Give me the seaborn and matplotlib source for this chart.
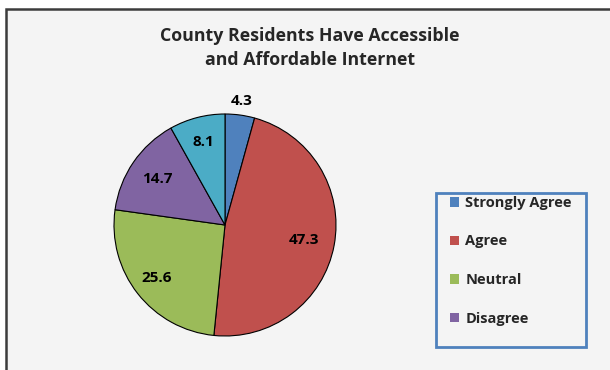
import numpy as np
import matplotlib
matplotlib.use("Agg")
import matplotlib.pyplot as plt
import seaborn as sns
from matplotlib.patches import Rectangle, Patch

sns.set_style("white")
plt.rcParams['font.family'] = ['Open Sans', 'DejaVu Sans']

categories = ["Strongly Agree", "Agree", "Neutral", "Disagree", "Strongly Disagree"]
values = [4.3, 47.3, 25.6, 14.7, 8.1]
value_labels = ["4.3", "47.3", "25.6", "14.7", "8.1"]
title = "County Residents Have Accessible\nand Affordable Internet"
legend_shown = 4

colors = sns.color_palette(["#4F81BD", "#C0504D", "#9BBB59", "#8064A2", "#4BACC6"])
label_dist = [1.13, 0.72, 0.78, 0.74, 0.77]

W, H = 610, 370
fig = plt.figure(figsize=(W / 100, H / 100), dpi=100, facecolor="white")

# chart area background with border
bg = Rectangle((5.5 / W, -0.1), 1.2, (H - 8.5) / H + 0.1, transform=fig.transFigure,
               facecolor="#f4f4f4", edgecolor="#3c3c3c", lw=1.8, zorder=-5)
fig.patches.append(bg)

# legend box
lb = Rectangle((436 / W, 1 - 347 / H), 150 / W, 154 / H, transform=fig.transFigure,
               facecolor="none", edgecolor="#4F81BD", lw=2, zorder=-4)
fig.patches.append(lb)

cx, cy, r = 225, 225, 111
ax = fig.add_axes([(cx - r) / W, (H - cy - r) / H, 2 * r / W, 2 * r / H], zorder=2)
wedges, _ = ax.pie(values, colors=colors, startangle=90, counterclock=False,
                   wedgeprops=dict(edgecolor="black", linewidth=0.8))
ax.set_xlim(-1, 1)
ax.set_ylim(-1, 1)
ax.set_aspect("equal")
ax.axis("off")

for w, lab, d in zip(wedges, value_labels, label_dist):
    ang = np.deg2rad((w.theta1 + w.theta2) / 2)
    ax.text(d * np.cos(ang), d * np.sin(ang), lab, ha="center", va="center",
            fontsize=11, fontweight="bold", color="black", clip_on=False)

fig.text(310 / W, 1 - 48 / H, title, ha="center", va="center", fontsize=12.8,
         fontweight="bold", linespacing=1.45)

handles = [Patch(facecolor=colors[i], edgecolor="none") for i in range(legend_shown)]
leg = fig.legend(handles, categories[:legend_shown], loc="upper left",
                 bbox_to_anchor=(450 / W, 1 - 196 / H), frameon=False,
                 prop=dict(size=10.5, weight="bold"), handlelength=0.65,
                 handleheight=0.65, handletextpad=0.4, labelspacing=1.68,
                 borderpad=0.0, borderaxespad=0)

fig.savefig("out.png", dpi=100, facecolor=fig.get_facecolor())
